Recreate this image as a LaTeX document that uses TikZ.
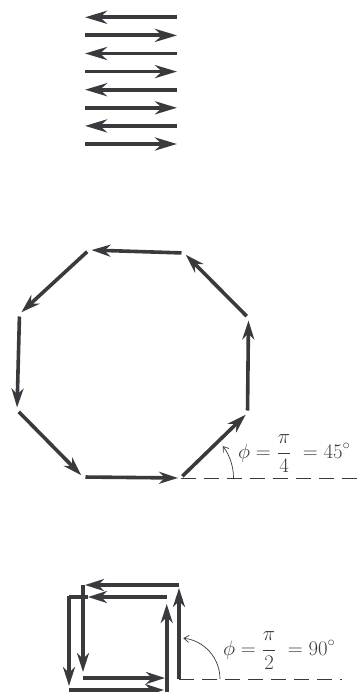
\documentclass[tikz,border=0pt]{standalone}
\usetikzlibrary{arrows.meta}
\definecolor{ink}{RGB}{58,58,62}
\begin{document}
\begin{tikzpicture}[x=1pt,y=-1pt,
  vec/.style={draw=ink, line width=3.6pt, -{Stealth[length=19pt,width=12pt,inset=6pt]}},
  bigvec/.style={draw=ink, line width=3.8pt, -{Stealth[length=22pt,width=13pt,inset=7pt]}},
  bare/.style={draw=ink, line width=3.6pt},
  refline/.style={draw=ink, line width=0.8pt, dash pattern=on 15pt off 8pt},
  anglearc/.style={draw=ink, line width=0.7pt, -{Straight Barb[length=5pt,width=7pt]}},
  lab/.style={text=ink, inner sep=0pt, anchor=base west}]
\useasboundingbox (0,0) rectangle (359,692);

% ---- top: alternating antiparallel vectors
\foreach \i in {0,...,7}{
  \pgfmathsetmacro\yy{17.3+18.1*\i}
  \coordinate (L\i) at (85,\yy);
  \coordinate (R\i) at (177,\yy);
  \ifodd\i \draw[bigvec] (L\i) -- (R\i); \else \draw[bigvec] (R\i) -- (L\i); \fi
}

% ---- octagon, phi = pi/4
\coordinate (A) at (180.5,478);
\coordinate (B) at (247.5,413);
\coordinate (C) at (248.5,318);
\coordinate (D) at (184,253);
\coordinate (E) at (89,250);
\coordinate (F) at (19.5,314);
\coordinate (G) at (17,410);
\coordinate (H) at (83,477);
\foreach \p/\q in {H/A, A/B, B/C, C/D, D/E, E/F, F/G, G/H}
  \draw[vec, shorten <=2.5pt, shorten >=2.5pt] (\p) -- (\q);
\coordinate (Aend) at (359,478);
\draw[refline] (A) -- (Aend);
\draw[anglearc] (A) ++(53pt,0pt) arc[start angle=0, end angle=37, radius=53pt];
\node[lab, font=\fontsize{22}{26}\selectfont] (lab45) at (238,458)
  {$\displaystyle\phi = \frac{\pi}{4} \;= 45^{\circ}$};

% ---- squares, phi = pi/2
\coordinate (p1) at (69,690);   \coordinate (p2) at (164,690);
\coordinate (p3) at (166.7,692); \coordinate (p4) at (166.7,604);
\coordinate (p5) at (166.7,597); \coordinate (p6) at (88,597); \coordinate (p6b) at (69,597);
\coordinate (p7) at (83,585);   \coordinate (p8) at (83,672);
\coordinate (p9) at (83,678);   \coordinate (p10) at (165,678);
\coordinate (Q) at (179,679);   \coordinate (p12) at (179,588);
\coordinate (p13) at (179,585); \coordinate (p14) at (85,585);
\coordinate (p15) at (69,596);  \coordinate (p16) at (69,686);
\draw[vec] (p1) -- (p2);
\draw[vec] (p3) -- (p4);
\draw[vec] (p5) -- (p6);
\draw[bare] (p6) -- (p6b);
\draw[vec] (p7) -- (p8);
\draw[vec] (p9) -- (p10);
\draw[vec] (Q) -- (p12);
\draw[vec] (p13) -- (p14);
\draw[vec] (p15) -- (p16);
\coordinate (Qend) at (342,679);
\draw[refline] (Q) -- (Qend);
\draw[anglearc] (Q) ++(41pt,0pt) arc[start angle=0, end angle=84, radius=41pt];
\node[lab, font=\fontsize{21.5}{26}\selectfont] (lab90) at (223,655)
  {$\displaystyle\phi = \frac{\pi}{2} \;= 90^{\circ}$};
\end{tikzpicture}
\end{document}
